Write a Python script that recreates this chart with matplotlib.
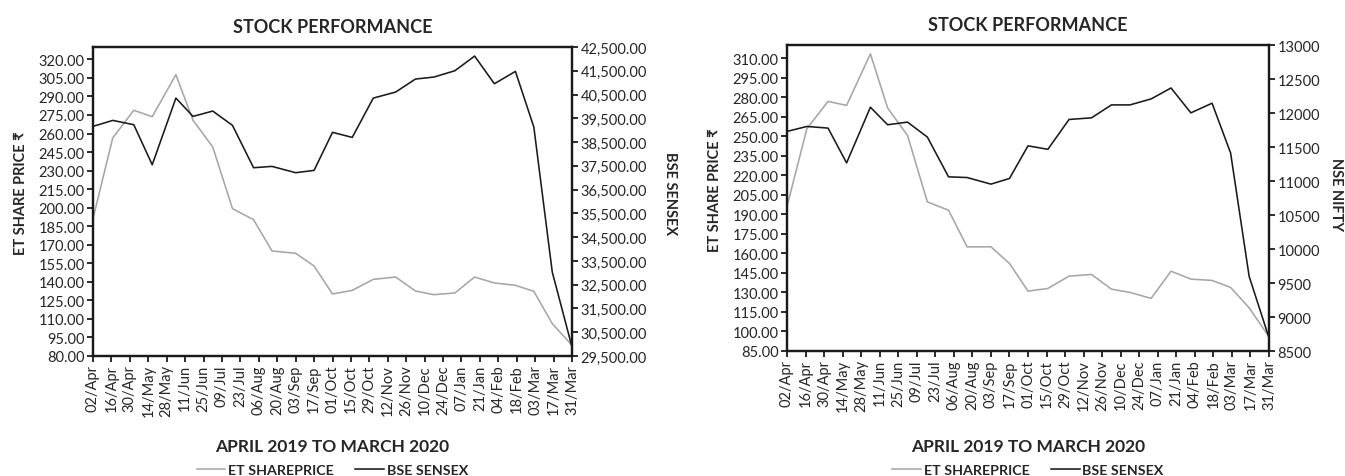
import matplotlib
matplotlib.use("Agg")
import matplotlib.pyplot as plt
import matplotlib.dates as mdates
from matplotlib.ticker import FuncFormatter, FixedLocator
from matplotlib.lines import Line2D
import numpy as np
import pandas as pd

plt.rcParams['font.family'] = ['Lato', 'DejaVu Sans']

# ---------------- data ----------------
dates = ["2019-04-02", "2019-04-17", "2019-05-03", "2019-05-17", "2019-06-04",
         "2019-06-17", "2019-07-02", "2019-07-17", "2019-08-02", "2019-08-16",
         "2019-09-03", "2019-09-17", "2019-10-01", "2019-10-16", "2019-11-01",
         "2019-11-18", "2019-12-03", "2019-12-17", "2020-01-02", "2020-01-17",
         "2020-02-01", "2020-02-17", "2020-03-02", "2020-03-16", "2020-03-31"]

tick_dates = ["2019-04-02", "2019-04-16", "2019-04-30", "2019-05-14", "2019-05-28",
              "2019-06-11", "2019-06-25", "2019-07-09", "2019-07-23", "2019-08-06",
              "2019-08-20", "2019-09-03", "2019-09-17", "2019-10-01", "2019-10-15",
              "2019-10-29", "2019-11-12", "2019-11-26", "2019-12-10", "2019-12-24",
              "2020-01-07", "2020-01-21", "2020-02-04", "2020-02-18", "2020-03-03",
              "2020-03-17", "2020-03-31"]
tick_labels = ["02/Apr", "16/Apr", "30/Apr", "14/May", "28/May", "11/Jun", "25/Jun",
               "09/Jul", "23/Jul", "06/Aug", "20/Aug", "03/Sep", "17/Sep", "01/Oct",
               "15/Oct", "29/Oct", "12/Nov", "26/Nov", "10/Dec", "24/Dec", "07/Jan",
               "21/Jan", "04/Feb", "18/Feb", "03/Mar", "17/Mar", "31/Mar"]

# left chart
et_price_1 = [191.1, 256.4, 278.8, 273.6, 307.6, 270.7, 249.1, 199.2, 190.3, 165.0,
              163.1, 152.8, 130.2, 133.1, 142.0, 143.9, 132.6, 129.6, 131.0, 143.9,
              139.1, 137.2, 132.3, 106.2, 88.6]
bse_sensex = [39160, 39412, 39230, 37547, 40351, 39580, 39805, 39202, 37421, 37477,
              37211, 37309, 38910, 38697, 40351, 40604, 41151, 41235, 41501, 42118,
              40954, 41473, 39132, 33033, 29879]

# right chart
et_price_2 = [196.0, 255.7, 276.7, 273.6, 313.2, 271.6, 250.6, 199.5, 193.1, 165.0,
              165.0, 152.2, 131.0, 133.0, 142.5, 143.8, 132.5, 130.0, 125.4, 146.3,
              140.2, 139.2, 133.8, 118.2, 96.0]
nse_nifty = [11729, 11802, 11778, 11266, 12085, 11827, 11866, 11646, 11061, 11051,
             10954, 11037, 11517, 11466, 11905, 11929, 12119, 12119, 12207, 12368,
             12002, 12144, 11412, 9598, 8695]

left_ticks_1 = np.arange(80, 321, 15)
right_ticks_1 = np.arange(29500, 42501, 1000)
left_ticks_2 = np.arange(85, 311, 15)
right_ticks_2 = np.arange(8500, 13001, 500)

x = pd.to_datetime(dates)
xt = pd.to_datetime(tick_dates)

GRAY = '#a6a6a6'
BLACK = '#1a1a1a'
TXT = '#262626'

W, H = 1345, 477
fig = plt.figure(figsize=(W / 100, H / 100), dpi=100)


def px_axes(x0, y0, x1, y1):
    return fig.add_axes([x0 / W, 1 - y1 / H, (x1 - x0) / W, (y1 - y0) / H])


def make_chart(rect, et, idx, lticks, rticks, lylim, rylim, lfmt, rfmt, rlabel,
               rlabel_xy):
    ax = px_axes(*rect)
    ax2 = ax.twinx()
    ax.plot(x, et, color=GRAY, lw=1.15)
    ax2.plot(x, idx, color=BLACK, lw=1.15)
    ax.set_xlim(xt[0], xt[-1])
    ax.set_ylim(*lylim)
    ax2.set_ylim(*rylim)
    ax.xaxis.set_major_locator(FixedLocator(mdates.date2num(xt)))
    ax.set_xticklabels(tick_labels, rotation=90, fontsize=10.5, color=TXT)
    ax.set_yticks(lticks)
    ax.yaxis.set_major_formatter(FuncFormatter(lfmt))
    ax2.set_yticks(rticks)
    ax2.yaxis.set_major_formatter(FuncFormatter(rfmt))
    for a in (ax, ax2):
        for s in a.spines.values():
            s.set_linewidth(1.6)
            s.set_color(BLACK)
        a.tick_params(axis='both', which='major', direction='out', length=4,
                      width=1.3, color=BLACK, labelsize=10.5, labelcolor=TXT, pad=2)
    ax.set_title('STOCK PERFORMANCE', fontsize=13, fontweight='bold', color=TXT, pad=11)
    ax.set_ylabel('ET SHARE PRICE ₹', fontsize=10.5, fontweight='bold', color=TXT)
    ax.yaxis.set_label_coords(-0.135, 0.53)
    ax2.set_ylabel(rlabel, fontsize=10.5, fontweight='bold', color=TXT, rotation=270,
                   va='center')
    ax2.yaxis.set_label_coords(*rlabel_xy)
    cx = (rect[0] + rect[2]) / 2 / W
    fig.text(cx, 1 - 447 / H, 'APRIL 2019 TO MARCH 2020', ha='center', va='center',
             fontsize=12.5, fontweight='bold', color=TXT)
    handles = [Line2D([], [], color=GRAY, lw=1.15), Line2D([], [], color=BLACK, lw=1.15)]
    fig.legend(handles, ['ET SHAREPRICE', 'BSE SENSEX'], loc='center',
               bbox_to_anchor=(cx, 1 - 471 / H), ncol=2, frameon=False,
               prop={'weight': 'bold', 'size': 10.3}, handlelength=2.0,
               handletextpad=0.2, columnspacing=1.5, labelcolor=TXT)
    return ax, ax2


make_chart((93, 48, 572, 357), et_price_1, bse_sensex, left_ticks_1, right_ticks_1,
           (80, 330), (29500, 42500),
           lambda v, p: f'{v:.2f}', lambda v, p: f'{v:,.2f}', 'BSE SENSEX',
           (1.205, 0.53))
make_chart((787, 46, 1269, 352), et_price_2, nse_nifty, left_ticks_2, right_ticks_2,
           (85, 320), (8500, 13000),
           lambda v, p: f'{v:.2f}', lambda v, p: f'{v:.0f}', 'NSE NIFTY',
           (1.14, 0.515))

fig.savefig('out.png', dpi=100, facecolor='white')
